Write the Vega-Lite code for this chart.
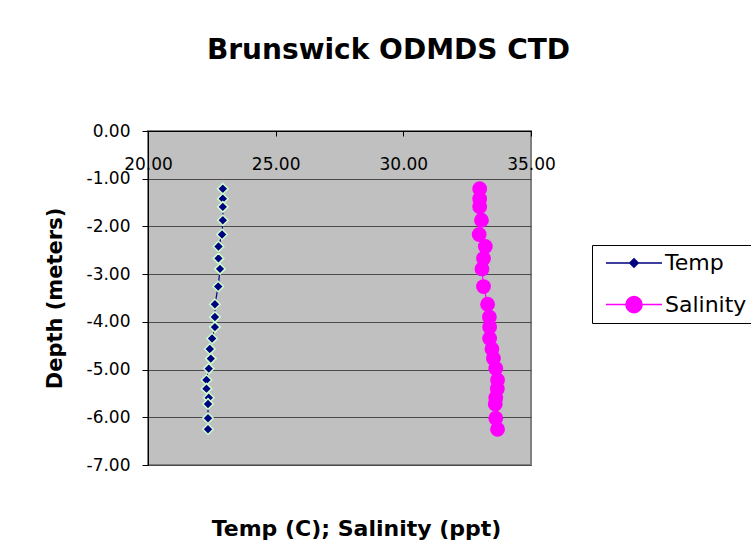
{
  "$schema": "https://vega.github.io/schema/vega-lite/v6.json",
  "width": 383,
  "height": 334,
  "autosize": "none",
  "padding": {"left": 148, "top": 131, "right": 220, "bottom": 83},
  "background": "white",
  "config": {
    "view": {"fill": "#c0c0c0", "stroke": "#808080", "strokeWidth": 2},
    "font": "DejaVu Sans"
  },
  "title": {
    "text": "Brunswick ODMDS CTD",
    "font": "DejaVu Sans",
    "fontSize": 28,
    "fontWeight": "bold",
    "color": "black",
    "anchor": "middle",
    "frame": "group",
    "dx": 49,
    "baseline": "alphabetic",
    "offset": 35
  },
  "data": {
    "values": [
      {"series": "Temp", "depth": -1.21, "value": 22.93},
      {"series": "Temp", "depth": -1.42, "value": 22.93},
      {"series": "Temp", "depth": -1.59, "value": 22.93},
      {"series": "Temp", "depth": -1.87, "value": 22.93},
      {"series": "Temp", "depth": -2.17, "value": 22.90},
      {"series": "Temp", "depth": -2.42, "value": 22.76},
      {"series": "Temp", "depth": -2.67, "value": 22.76},
      {"series": "Temp", "depth": -2.89, "value": 22.82},
      {"series": "Temp", "depth": -3.26, "value": 22.75},
      {"series": "Temp", "depth": -3.63, "value": 22.62},
      {"series": "Temp", "depth": -3.90, "value": 22.62},
      {"series": "Temp", "depth": -4.11, "value": 22.62},
      {"series": "Temp", "depth": -4.35, "value": 22.51},
      {"series": "Temp", "depth": -4.57, "value": 22.42},
      {"series": "Temp", "depth": -4.77, "value": 22.46},
      {"series": "Temp", "depth": -4.98, "value": 22.38},
      {"series": "Temp", "depth": -5.22, "value": 22.29},
      {"series": "Temp", "depth": -5.40, "value": 22.29},
      {"series": "Temp", "depth": -5.59, "value": 22.38},
      {"series": "Temp", "depth": -5.72, "value": 22.35},
      {"series": "Temp", "depth": -6.02, "value": 22.35},
      {"series": "Temp", "depth": -6.25, "value": 22.35},
      {"series": "Salinity", "depth": -1.21, "value": 32.99},
      {"series": "Salinity", "depth": -1.42, "value": 32.99},
      {"series": "Salinity", "depth": -1.59, "value": 32.99},
      {"series": "Salinity", "depth": -1.87, "value": 33.06},
      {"series": "Salinity", "depth": -2.17, "value": 32.97},
      {"series": "Salinity", "depth": -2.42, "value": 33.21},
      {"series": "Salinity", "depth": -2.67, "value": 33.14},
      {"series": "Salinity", "depth": -2.89, "value": 33.08},
      {"series": "Salinity", "depth": -3.26, "value": 33.14},
      {"series": "Salinity", "depth": -3.63, "value": 33.30},
      {"series": "Salinity", "depth": -3.90, "value": 33.37},
      {"series": "Salinity", "depth": -4.11, "value": 33.38},
      {"series": "Salinity", "depth": -4.35, "value": 33.38},
      {"series": "Salinity", "depth": -4.57, "value": 33.47},
      {"series": "Salinity", "depth": -4.77, "value": 33.53},
      {"series": "Salinity", "depth": -4.98, "value": 33.62},
      {"series": "Salinity", "depth": -5.22, "value": 33.69},
      {"series": "Salinity", "depth": -5.40, "value": 33.68},
      {"series": "Salinity", "depth": -5.59, "value": 33.62},
      {"series": "Salinity", "depth": -5.72, "value": 33.60},
      {"series": "Salinity", "depth": -6.02, "value": 33.62},
      {"series": "Salinity", "depth": -6.25, "value": 33.69}
    ]
  },
  "encoding": {
    "x": {
      "field": "value",
      "type": "quantitative",
      "scale": {"domain": [20, 35], "nice": false, "zero": false},
      "axis": {
        "orient": "bottom",
        "offset": -334,
        "values": [20, 25, 30, 35],
        "format": ".2f",
        "labelFont": "DejaVu Sans",
        "labelFontSize": 17,
        "labelColor": "black",
        "labelFlush": false,
        "labelOverlap": false,
        "labelBaseline": "top",
        "labelPadding": 20,
        "tickSize": 5,
        "tickColor": "black",
        "domainColor": "black",
        "grid": false,
        "title": "Temp (C); Salinity (ppt)",
        "titleFont": "DejaVu Sans",
        "titleFontSize": 22,
        "titleFontWeight": "bold",
        "titleColor": "black",
        "titleX": 208,
        "titleY": 404,
        "titleBaseline": "alphabetic",
        "titleAlign": "center"
      }
    },
    "y": {
      "field": "depth",
      "type": "quantitative",
      "scale": {"domain": [-7, 0], "nice": false, "zero": false},
      "axis": {
        "values": [0, -1, -2, -3, -4, -5, -6, -7],
        "labelExpr": "(datum.value < 0 ? '-' : '') + format(abs(datum.value), '.2f')",
        "labelFont": "DejaVu Sans",
        "labelFontSize": 17,
        "labelColor": "black",
        "labelPadding": 12,
        "tickSize": 6,
        "tickColor": "black",
        "domainColor": "black",
        "grid": true,
        "gridColor": "#4a4a4a",
        "gridWidth": 1,
        "title": "Depth (meters)",
        "titleFont": "DejaVu Sans",
        "titleFontSize": 21,
        "titleFontWeight": "bold",
        "titleColor": "black",
        "titleAngle": -90,
        "titleX": -87,
        "titleY": 167,
        "titleBaseline": "alphabetic",
        "titleAlign": "center"
      }
    }
  },
  "layer": [
    {
      "transform": [{"filter": "datum.series === 'Temp'"}],
      "mark": {"type": "line", "stroke": "#000080", "strokeWidth": 1.2},
      "encoding": {
        "order": {"field": "depth", "type": "quantitative", "sort": "descending"}
      }
    },
    {
      "transform": [{"filter": "datum.series === 'Salinity'"}],
      "mark": {"type": "line", "stroke": "#ff00ff", "strokeWidth": 1.2},
      "encoding": {
        "order": {"field": "depth", "type": "quantitative", "sort": "descending"}
      }
    },
    {
      "transform": [{"filter": "datum.series === 'Temp'"}],
      "mark": {"type": "point", "shape": "diamond", "filled": true, "fill": "#000080", "stroke": "#ccffcc", "strokeWidth": 1.5, "size": 110, "opacity": 1}
    },
    {
      "transform": [{"filter": "datum.series === 'Salinity'"}],
      "mark": {"type": "point", "shape": "circle", "filled": true, "fill": "#ff00ff", "strokeWidth": 0, "size": 220, "opacity": 1}
    },
    {
      "mark": {"type": "point", "filled": true, "opacity": 0},
      "encoding": {
        "fill": {
          "field": "series",
          "type": "nominal",
          "scale": {"domain": ["Temp", "Salinity"], "range": ["#000080", "#ff00ff"]},
          "legend": {"orient": "none", "legendX": 444, "legendY": 114, "title": null, "symbolSize": 196, "symbolOpacity": 1, "symbolStrokeWidth": 1.5, "symbolOffset": 24, "labelFont": "DejaVu Sans", "labelFontSize": 22, "labelColor": "black", "labelOffset": 20, "rowPadding": 18.6, "padding": 7, "strokeColor": "black", "fillColor": "white"}
        },
        "stroke": {
          "field": "series",
          "type": "nominal",
          "scale": {"domain": ["Temp", "Salinity"], "range": ["#000080", "#ff00ff"]},
          "legend": {"orient": "none", "legendX": 444, "legendY": 114, "title": null, "symbolSize": 196, "symbolOpacity": 1, "symbolStrokeWidth": 1.5, "symbolOffset": 24, "labelFont": "DejaVu Sans", "labelFontSize": 22, "labelColor": "black", "labelOffset": 20, "rowPadding": 18.6, "padding": 7, "strokeColor": "black", "fillColor": "white"}
        },
        "shape": {
          "field": "series",
          "type": "nominal",
          "scale": {"domain": ["Temp", "Salinity"], "range": ["M-4,0H4M0,-0.6L0.6,0L0,0.6L-0.6,0Z", "M-4,0H4M-1.15,0A1.15,1.15,0,1,1,1.15,0A1.15,1.15,0,1,1,-1.15,0Z"]},
          "legend": {"orient": "none", "legendX": 444, "legendY": 114, "title": null, "symbolSize": 196, "symbolOpacity": 1, "symbolStrokeWidth": 1.5, "symbolOffset": 24, "labelFont": "DejaVu Sans", "labelFontSize": 22, "labelColor": "black", "labelOffset": 20, "rowPadding": 18.6, "padding": 7, "strokeColor": "black", "fillColor": "white"}
        }
      }
    }
  ]
}
